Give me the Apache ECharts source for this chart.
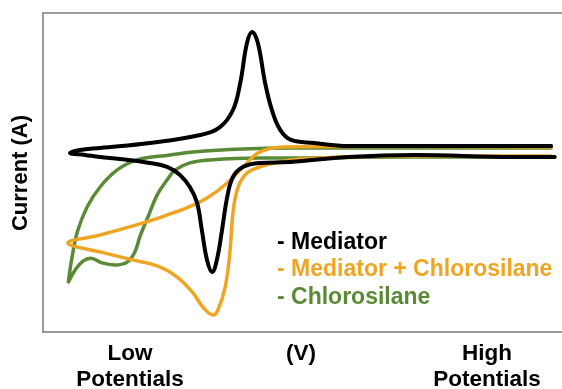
<!DOCTYPE html>
<html>
<head>
<meta charset="utf-8">
<script src="https://cdn.jsdelivr.net/npm/echarts@6/dist/echarts.min.js"></script>
<style>
html,body{margin:0;padding:0;background:#fff;}
#chart{width:562px;height:389px;}
</style>
</head>
<body>
<div id="chart"></div>
<script>
// Potential (arbitrary units, 0 = low, 100 = high) and current (arbitrary units)
var seriesNames = ['Mediator', 'Mediator + Chlorosilane', 'Chlorosilane'];
var seriesColors = ['#000000', '#EFA422', '#5B8A36'];

var mediatorPotential = [98.6, 90.8, 71.5, 58.8, 47.6, 41.8, 38.5, 36.6, 35.5, 34.5, 33.5, 32.6, 31.6, 30.6, 29.7, 28.3, 26.4, 23.9, 20.6, 14.8, 11.0, 8.1, 5.2,
  7.1, 11.0, 20.6, 30.3, 34.1, 36.6, 38.0, 39.3, 40.3, 41.4, 42.8, 44.1, 45.7, 47.8, 52.2, 58.8, 78.4, 97.9];
var mediatorCurrent = [-4.3, -4.3, -3.0, -4.3, -7.4, -8.0, -10.5, -16.8, -29.3, -50.0, -68.8, -76.4, -68.8, -50.0, -33.1, -23.1, -15.5, -10.5, -8.0, -5.5, -4.3, -3.0, -1.8,
  0.1, 1.4, 4.5, 9.5, 14.5, 25.2, 42.1, 67.2, 74.1, 67.2, 42.1, 25.2, 12.7, 6.4, 4.5, 2.6, 2.6, 2.6];

var mixPotential = [97.9, 59.2, 46.2, 41.8, 39.3, 35.5, 31.6, 27.7, 24.5, 19.3, 11.0, 4.8,
  11.0, 17.3, 22.5, 25.8, 28.9, 30.8, 32.8, 33.7, 35.1, 36.0, 36.6, 37.6, 39.3, 41.8, 43.7, 49.5, 68.8, 97.9];
var mixCurrent = [2.0, 2.3, 2.0, -1.1, -8.0, -20.6, -30.0, -36.2, -40.0, -45.6, -53.2, -58.2,
  -63.8, -68.8, -73.2, -79.5, -89.5, -98.3, -103.3, -100.2, -85.8, -64.4, -39.4, -23.1, -14.3, -10.5, -8.7, -5.5, -3.6, -3.6];

var silanePotential = [97.9, 68.8, 47.6, 41.8, 32.2, 28.3, 25.5, 23.9, 22.0, 20.3, 18.7, 17.7, 16.2, 13.8, 11.4, 9.2, 7.7, 6.2, 4.9,
  5.2, 5.6, 6.6, 8.5, 11.0, 14.3, 18.1, 24.5, 28.9, 38.5, 47.6, 68.8, 97.9];
var silaneCurrent = [-4.3, -4.3, -4.9, -4.9, -6.1, -8.0, -12.4, -18.7, -28.0, -41.3, -53.9, -63.8, -70.2, -72.0, -70.7, -67.7, -69.5, -75.1, -82.6,
  -75.1, -67.0, -51.3, -35.6, -23.1, -12.4, -6.1, -3.0, -1.1, 0.8, 1.4, 1.4, 1.4];

var axisLabelsLow = 'Low\nPotentials';
var axisLabelsMid = '(V)';
var axisLabelsHigh = 'High\nPotentials';
var yLabel = 'Current (A)';

function pairs(xs, ys) {
  var out = [];
  for (var i = 0; i < xs.length; i++) out.push([xs[i], ys[i]]);
  return out;
}

var chart = echarts.init(document.getElementById('chart'), null, {renderer: 'canvas'});
var font = '"Liberation Sans", Arial, sans-serif';
var frameLine = {show: true, lineStyle: {color: '#7a7a7a', width: 1.5}};

var seriesData = [pairs(mediatorPotential, mediatorCurrent), pairs(mixPotential, mixCurrent), pairs(silanePotential, silaneCurrent)];
var order = [2, 1, 0];
var series = order.map(function (i) {
  return {
    name: seriesNames[i],
    type: 'line',
    data: seriesData[i],
    smooth: 0.4,
    showSymbol: false,
    symbol: 'none',
    lineStyle: {color: seriesColors[i], width: i === 0 ? 4 : 3.5, cap: 'round', join: 'round'},
    itemStyle: {color: seriesColors[i]},
    z: 2 + (2 - i),
    animation: false
  };
});

var hiddenAxisBits = {axisTick: {show: false}, axisLabel: {show: false}, splitLine: {show: false}};

chart.setOption({
  animation: false,
  grid: {left: 43, right: 0, top: 13, bottom: 57, show: false},
  xAxis: [
    Object.assign({type: 'value', min: 0, max: 100, position: 'bottom', axisLine: Object.assign({onZero: false}, frameLine)}, hiddenAxisBits),
    Object.assign({type: 'value', min: 0, max: 100, position: 'top', axisLine: Object.assign({onZero: false}, frameLine)}, hiddenAxisBits)
  ],
  yAxis: Object.assign({type: 'value', min: -114, max: 86, position: 'left', axisLine: Object.assign({onZero: false}, frameLine)}, hiddenAxisBits),
  legend: {
    orient: 'vertical',
    left: 267,
    top: 226,
    icon: 'none',
    itemWidth: 0,
    itemHeight: 23,
    itemGap: 4.5,
    selectedMode: false,
    formatter: function (n) { return '- ' + n; },
    textStyle: {fontFamily: font, fontWeight: 'bold', fontSize: 23, padding: 0},
    data: seriesNames.map(function (n, i) { return {name: n, textStyle: {color: seriesColors[i]}}; })
  },
  graphic: [
    {type: 'text', x: 130, y: 367, style: {text: axisLabelsLow, fontFamily: font, fontWeight: 'bold', fontSize: 22.5, lineHeight: 26, fill: '#000', align: 'center', verticalAlign: 'middle'}},
    {type: 'text', x: 301, y: 354, style: {text: axisLabelsMid, fontFamily: font, fontWeight: 'bold', fontSize: 22.5, fill: '#000', align: 'center', verticalAlign: 'middle'}},
    {type: 'text', x: 487, y: 367, style: {text: axisLabelsHigh, fontFamily: font, fontWeight: 'bold', fontSize: 22.5, lineHeight: 26, fill: '#000', align: 'center', verticalAlign: 'middle'}},
    {type: 'text', x: 21, y: 173, rotation: Math.PI / 2, style: {text: yLabel, fontFamily: font, fontWeight: 'bold', fontSize: 22, fill: '#000', align: 'center', verticalAlign: 'middle'}}
  ],
  series: series
});
</script>
</body>
</html>
